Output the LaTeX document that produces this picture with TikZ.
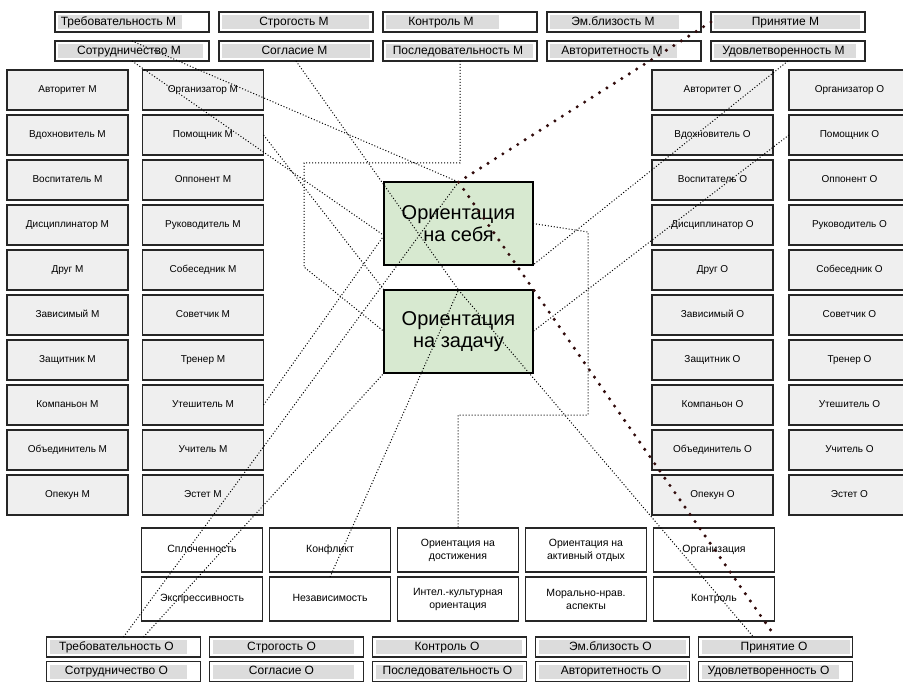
\documentclass[tikz,border=0pt]{standalone}
\usepackage{fontspec}
\setmainfont{Liberation Sans}
\usetikzlibrary{positioning}
\definecolor{rolefill}{RGB}{239,239,239}
\definecolor{barfill}{RGB}{220,220,220}
\definecolor{orientfill}{RGB}{215,233,208}
\definecolor{dotline}{RGB}{50,12,12}
\tikzset{
  role/.style={draw=black!85, line width=1.5pt, fill=rolefill, outer sep=0pt,
    minimum width=121pt, minimum height=40pt, inner sep=1pt,
    text height=7.3pt, text depth=2pt,
    font=\fontsize{10}{12}\selectfont},
  param/.style={draw=black!85, line width=1.1pt, fill=white, outer sep=0pt,
    minimum width=154pt, minimum height=20pt, inner sep=0pt,
    text height=8.7pt, text depth=2.4pt,
    font=\fontsize{12}{14}\selectfont,
    execute at begin node={\hspace*{-#1}},
    path picture={\fill[barfill]
      ([shift={(3pt,-3pt)}]path picture bounding box.north west) rectangle
      ([shift={(-#1,3pt)}]path picture bounding box.south east);}},
  param/.default=4pt,
  orient/.style={draw=black, line width=1.7pt, fill=orientfill, outer sep=0pt,
    minimum width=149pt, minimum height=83pt, align=center,
    font=\fontsize{20}{22.5}\selectfont},
  trait/.style={draw=black!85, line width=1.2pt, fill=white, outer sep=0pt,
    minimum width=121pt, minimum height=44pt, align=center,
    font=\fontsize{10.5}{13}\selectfont},
  one line/.style={text height=7.8pt, text depth=2.3pt},
  link/.style={draw=black, line width=1pt, dash pattern=on 1pt off 2pt},
  strong link/.style={draw=dotline, line width=3.4pt, line cap=round,
    dash pattern=on 0pt off 8.8pt}
}

\begin{document}
\begin{tikzpicture}[x=1pt, y=-1pt, node distance=5pt]
    \useasboundingbox (0,0) rectangle (903,682);

    % parameters M
    \node[param=27pt] (treb-M) at (132,22) {Требовательность М};
    \node[param] (strog-M) [right=10pt of treb-M] {Строгость М};
    \node[param=38pt] (kontrol-M) [right=10pt of strog-M] {Контроль М};
    \node[param=22pt] (emblz-M) [right=10pt of kontrol-M] {Эм.близость М};
    \node[param=5pt] (prin-M) [right=10pt of emblz-M] {Принятие М};
    \node[param=6pt] (sotr-M) at (132,51) {Сотрудничество М};
    \node[param=3pt] (sogl-M) [right=10pt of sotr-M] {Согласие М};
    \node[param] (posled-M) [right=10pt of sogl-M] {Последовательность М};
    \node[param=24pt] (avtor-M) [right=10pt of posled-M] {Авторитетность М};
    \node[param=9pt] (udovl-M) [right=10pt of avtor-M] {Удовлетворенность М};

    % roles M
    \node[role] (avtoritet-M) at (67.5,90) {Авторитет М};
    \node[role] (vdohn-M) [below=of avtoritet-M] {Вдохновитель М};
    \node[role] (vospit-M) [below=of vdohn-M] {Воспитатель М};
    \node[role] (discip-M) [below=of vospit-M] {Дисциплинатор М};
    \node[role] (drug-M) [below=of discip-M] {Друг М};
    \node[role] (zavis-M) [below=of drug-M] {Зависимый М};
    \node[role] (zasch-M) [below=of zavis-M] {Защитник М};
    \node[role] (kompan-M) [below=of zasch-M] {Компаньон М};
    \node[role] (obed-M) [below=of kompan-M] {Объединитель М};
    \node[role] (opekun-M) [below=of obed-M] {Опекун М};
    \node[role] (organiz-M) at (203,90) {Организатор М};
    \node[role] (pomosch-M) [below=of organiz-M] {Помощник М};
    \node[role] (opponent-M) [below=of pomosch-M] {Оппонент М};
    \node[role] (rukovod-M) [below=of opponent-M] {Руководитель М};
    \node[role] (sobesed-M) [below=of rukovod-M] {Собеседник М};
    \node[role] (sovetch-M) [below=of sobesed-M] {Советчик М};
    \node[role] (trener-M) [below=of sovetch-M] {Тренер М};
    \node[role] (uteshit-M) [below=of trener-M] {Утешитель М};
    \node[role] (uchit-M) [below=of uteshit-M] {Учитель М};
    \node[role] (estet-M) [below=of uchit-M] {Эстет М};

    % roles O
    \node[role] (avtoritet-O) at (712.5,90) {Авторитет О};
    \node[role] (vdohn-O) [below=of avtoritet-O] {Вдохновитель О};
    \node[role] (vospit-O) [below=of vdohn-O] {Воспитатель О};
    \node[role] (discip-O) [below=of vospit-O] {Дисциплинатор О};
    \node[role] (drug-O) [below=of discip-O] {Друг О};
    \node[role] (zavis-O) [below=of drug-O] {Зависимый О};
    \node[role] (zasch-O) [below=of zavis-O] {Защитник О};
    \node[role] (kompan-O) [below=of zasch-O] {Компаньон О};
    \node[role] (obed-O) [below=of kompan-O] {Объединитель О};
    \node[role] (opekun-O) [below=of obed-O] {Опекун О};
    \node[role] (organiz-O) at (849.5,90) {Организатор О};
    \node[role] (pomosch-O) [below=of organiz-O] {Помощник О};
    \node[role] (opponent-O) [below=of pomosch-O] {Оппонент О};
    \node[role] (rukovod-O) [below=of opponent-O] {Руководитель О};
    \node[role] (sobesed-O) [below=of rukovod-O] {Собеседник О};
    \node[role] (sovetch-O) [below=of sobesed-O] {Советчик О};
    \node[role] (trener-O) [below=of sovetch-O] {Тренер О};
    \node[role] (uteshit-O) [below=of trener-O] {Утешитель О};
    \node[role] (uchit-O) [below=of uteshit-O] {Учитель О};
    \node[role] (estet-O) [below=of uchit-O] {Эстет О};

    % orientations
    \node[orient] (self) at (458.5,223.5) {Ориентация\\на себя};
    \node[orient] (task) [below=25pt of self] {Ориентация\\на задачу};

    % group traits
    \node[trait, one line] (splo) at (202,550) {Сплоченность};
    \node[trait, one line] (konfl) [right=7pt of splo] {Конфликт};
    \node[trait] (dost) [right=7pt of konfl] {Ориентация на\\достижения};
    \node[trait] (otdyh) [right=7pt of dost] {Ориентация на\\активный отдых};
    \node[trait, one line] (organ) [right=7pt of otdyh] {Организация};
    \node[trait, one line] (ekspr) [below=of splo] {Экспрессивность};
    \node[trait, one line] (nezav) [below=of konfl] {Независимость};
    \node[trait] (intel) [below=of dost] {Интел.-культурная\\ориентация};
    \node[trait] (moral) [below=of otdyh] {Морально-нрав.\\аспекты};
    \node[trait, one line] (kontr) [below=of organ] {Контроль};

    % parameters O
    \node[param=14pt] (treb-O) at (123.5,647) {Требовательность О};
    \node[param=10pt] (strog-O) [right=9pt of treb-O] {Строгость О};
    \node[param=5pt] (kontrol-O) [right=9pt of strog-O] {Контроль О};
    \node[param] (emblz-O) [right=9pt of kontrol-O] {Эм.близость О};
    \node[param=3pt] (prin-O) [right=9pt of emblz-O] {Принятие О};
    \node[param=14pt] (sotr-O) at (123.5,671.5) {Сотрудничество О};
    \node[param=10pt] (sogl-O) [right=9pt of sotr-O] {Согласие О};
    \node[param] (posled-O) [right=9pt of sogl-O] {Последовательность О};
    \node[param=3pt] (avtor-O) [right=9pt of posled-O] {Авторитетность О};
    \node[param=14pt] (udovl-O) [right=9pt of avtor-O] {Удовлетворенность О};

    \coordinate (bend-a) at (304,163);
    \coordinate (bend-b) at (304,267);
    \coordinate (bend-c) at (588,232);
    \coordinate (bend-d) at (588,415);

    \path[link]
    (sotr-M.north)
      edge (self.north)
    (sotr-M.south)
      edge ([yshift=-12pt]self.west)
    (pomosch-M.east)
      edge (task.north west)
    (sogl-M.south)
      edge (task.north)
    (uteshit-M.east)
      edge ([yshift=-12pt]self.west)
    (treb-O.north)
      edge (self.north)
    ([xshift=20pt]treb-O.north)
      edge (task.south west)
    (nezav.north)
      edge (task.north)
    (udovl-M.south)
      edge (self.south east)
    (pomosch-O.west)
      edge (task.east)
    (task.north)
      edge ([xshift=-22pt]prin-O.north)
    ;
    \draw[link] (posled-M.south) |- (bend-a) -- (bend-b) -- (task.west);
    \draw[link] (self.east) -- (bend-c) -- (bend-d) -| (dost.north);
    \draw[strong link] (prin-M.west) -- (self.north) -- (prin-O.north);
\end{tikzpicture}
\end{document}
